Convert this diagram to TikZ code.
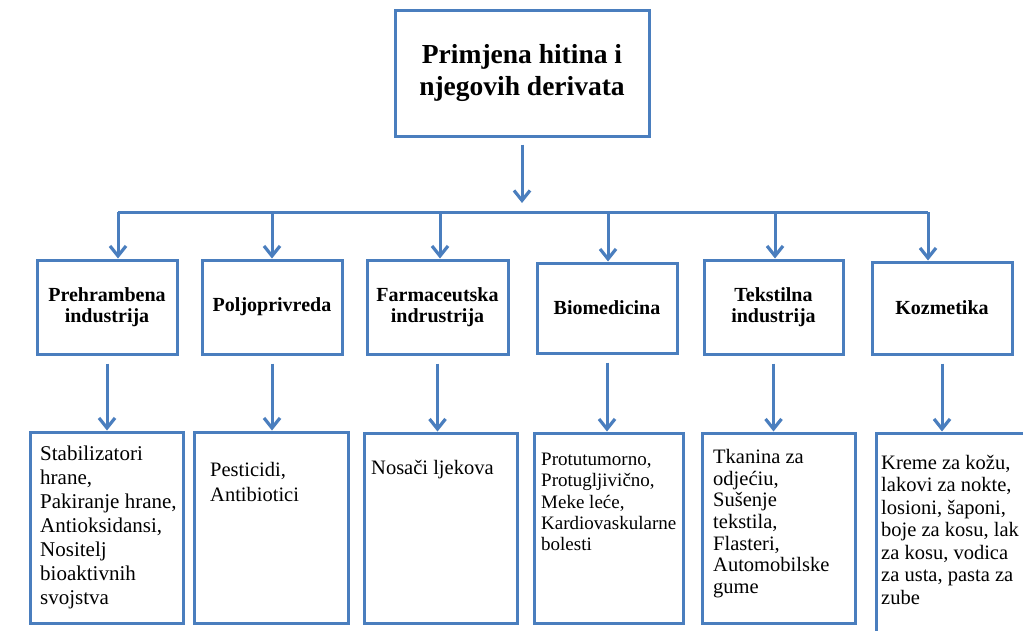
\documentclass[tikz,border=0pt]{standalone}
\usepackage{fontspec}
\setmainfont{Liberation Serif}
\usetikzlibrary{arrows.meta}
\definecolor{bblue}{RGB}{74,126,190}
\tikzset{
  box/.style={draw=bblue, line width=3pt, fill=white, inner sep=0pt},
  toptext/.style={font=\bfseries\fontsize{27.5}{32}\selectfont, align=center},
  midtext/.style={font=\bfseries\fontsize{20}{21}\selectfont, align=center},
  lowtext/.style={anchor=north west, inner sep=0pt, align=left},
  conn/.style={draw=bblue, line width=3pt},
  arr/.style={conn, -{Straight Barb[length=10pt,width=16pt,line width=3.2pt]}},
}
\begin{document}
\begin{tikzpicture}[x=1pt,y=-1pt]
\useasboundingbox[fill=white] (0,0) rectangle (1023,630);
% top
\node[box, minimum width=254, minimum height=126, toptext] (top) at (522,73) {Primjena hitina i\\njegovih derivata};
% mid boxes
\node[box, minimum width=140, minimum height=94, midtext] (m1) at (107,307) {Prehrambena\\industrija};
\node[box, minimum width=140, minimum height=94, midtext] (m2) at (272,307) {Poljoprivreda};
\node[box, minimum width=141, minimum height=94, midtext] (m3) at (437.5,307) {Farmaceutska\\indrustrija};
\node[box, minimum width=140, minimum height=90, midtext] (m4) at (607,308) {Biomedicina};
\node[box, minimum width=139, minimum height=94, midtext] (m5) at (773.5,307) {Tekstilna\\industrija};
\node[box, minimum width=140, minimum height=92, midtext] (m6) at (942,308) {Kozmetika};
% low boxes
\node[box, minimum width=153, minimum height=191] (l1) at (106.5,527.5) {};
\node[box, minimum width=154, minimum height=191] (l2) at (271,527.5) {};
\node[box, minimum width=153, minimum height=190] (l3) at (440.5,528) {};
\node[box, minimum width=149, minimum height=190] (l4) at (608.5,528) {};
\node[box, minimum width=153, minimum height=190] (l5) at (778.5,528) {};
\node[box, minimum width=164, minimum height=217] (l6) at (958,541.5) {};
% low texts
\node[lowtext, font=\fontsize{21}{24}\selectfont] (t1) at (40,446) {Stabilizatori\\hrane,\\Pakiranje hrane,\\Antioksidansi,\\Nositelj\\bioaktivnih\\svojstva};
\node[lowtext, font=\fontsize{20.5}{25}\selectfont] (t2) at (210,462) {Pesticidi,\\Antibiotici};
\node[lowtext, font=\fontsize{20.5}{24}\selectfont] (t3) at (371,460) {Nosači ljekova};
\node[lowtext, font=\fontsize{19}{21.3}\selectfont] (t4) at (541,453) {Protutumorno,\\Protugljivično,\\Meke leće,\\Kardiovaskularne\\bolesti};
\node[lowtext, font=\fontsize{20.5}{21.7}\selectfont] (t5) at (713,449) {Tkanina za\\odjećiu,\\Sušenje\\tekstila,\\Flasteri,\\Automobilske\\gume};
\node[lowtext, font=\fontsize{20.5}{22.5}\selectfont] (t6) at (881,455) {Kreme za kožu,\\lakovi za nokte,\\losioni, šaponi,\\boje za kosu, lak\\za kosu, vodica\\za usta, pasta za\\zube};
% connectors
\coordinate (hub) at (522,203);
\coordinate (b1) at (118,212);
\coordinate (b2) at (272,212);
\coordinate (b3) at (440,212);
\coordinate (b4) at (608,212);
\coordinate (b5) at (775,212);
\coordinate (b6) at (928,212);
\draw[arr] ([yshift=-7pt]top.south) -- (hub);
\draw[conn] (b1) -- (b6);
\draw[arr] (b1) -- (b1 |- m1.north);
\draw[arr] (b2) -- (b2 |- m2.north);
\draw[arr] (b3) -- (b3 |- m3.north);
\draw[arr] (b4) -- (b4 |- m4.north);
\draw[arr] (b5) -- (b5 |- m5.north);
\draw[arr] (b6) -- (b6 |- m6.north);
\foreach \i in {1,...,6}{
  \draw[arr] ([yshift=-8pt]m\i.south) -- (m\i.south |- l\i.north);
}
\end{tikzpicture}
\end{document}
